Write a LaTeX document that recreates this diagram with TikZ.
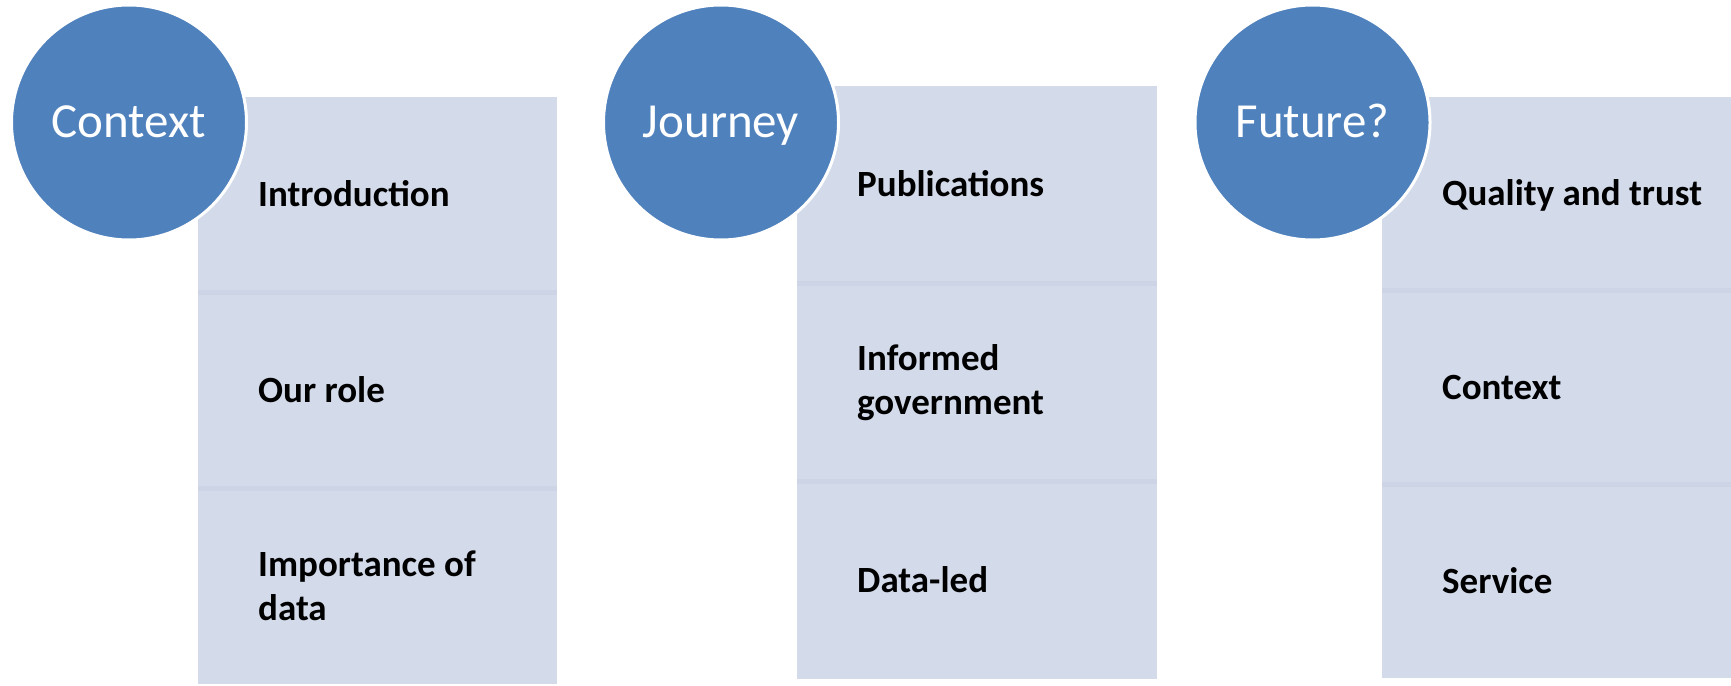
\documentclass[tikz,border=0pt]{standalone}
\usepackage{fontspec}
\setmainfont{Carlito}
\usepackage{tikz}
\usetikzlibrary{positioning}
\definecolor{hubblue}{RGB}{79,129,189}
\definecolor{panel}{RGB}{211,218,234}
\definecolor{panelsep}{RGB}{204,212,230}
\tikzstyle{hub}=[circle, fill=hubblue, draw=white, line width=3pt, minimum size=235pt, inner sep=0pt, text=white, text height=35pt, text depth=6pt, font=\fontsize{49}{58}\selectfont]
\tikzstyle{cell}=[rectangle, fill=panel, inner sep=0pt, outer sep=0pt, anchor=north west]
\tikzstyle{twoline}=[inner sep=0pt, align=left, font=\fontsize{37}{44}\selectfont\bfseries]
\tikzstyle{item}=[twoline, text height=30pt, text depth=6pt]
\tikzstyle{sep}=[draw=panelsep, line width=5pt]

\begin{document}
\begin{tikzpicture}[x=1pt, y=-1pt]
  \useasboundingbox (0,0) rectangle (1731,685);
%
  \node[cell, minimum width=359pt, minimum height=195.7pt] (a) at (198,97) {};
  \node[cell, minimum width=359pt, minimum height=195.7pt] (aa) [below=0pt of a] {};
  \node[cell, minimum width=359pt, minimum height=195.7pt] (ab) [below=0pt of aa] {};
  \draw[sep] (a.south west) -- (a.south east);
  \draw[sep] (aa.south west) -- (aa.south east);
  \node[item] (ta) [right=60pt of a.west] {Introduction};
  \node[item] (taa) [right=60pt of aa.west] {Our role};
  \node[twoline] (tab) [right=60pt of ab.west] {Importance of\\data};
%
  \node[cell, minimum width=360pt, minimum height=197.7pt] (b) at (797,86) {};
  \node[cell, minimum width=360pt, minimum height=197.7pt] (ba) [below=0pt of b] {};
  \node[cell, minimum width=360pt, minimum height=197.7pt] (bb) [below=0pt of ba] {};
  \draw[sep] (b.south west) -- (b.south east);
  \draw[sep] (ba.south west) -- (ba.south east);
  \node[item] (tb) [right=60pt of b.west] {Publications};
  \node[twoline] (tba) [right=60pt of ba.west] {Informed\\government};
  \node[item] (tbb) [right=60pt of bb.west] {Data-led};
%
  \node[cell, minimum width=349pt, minimum height=193.7pt] (c) at (1382,97) {};
  \node[cell, minimum width=349pt, minimum height=193.7pt] (ca) [below=0pt of c] {};
  \node[cell, minimum width=349pt, minimum height=193.7pt] (cb) [below=0pt of ca] {};
  \draw[sep] (c.south west) -- (c.south east);
  \draw[sep] (ca.south west) -- (ca.south east);
  \node[item] (tc) [right=60pt of c.west] {Quality and trust};
  \node[item] (tca) [right=60pt of ca.west] {Context};
  \node[item] (tcb) [right=60pt of cb.west] {Service};
%
  \node[hub] (ctx) at (129,122.5) {Context};
  \node[hub] (jny) at (721,122.5) {Journey};
  \node[hub] (fut) at (1312.5,122.5) {Future?};
\end{tikzpicture}
\end{document}
